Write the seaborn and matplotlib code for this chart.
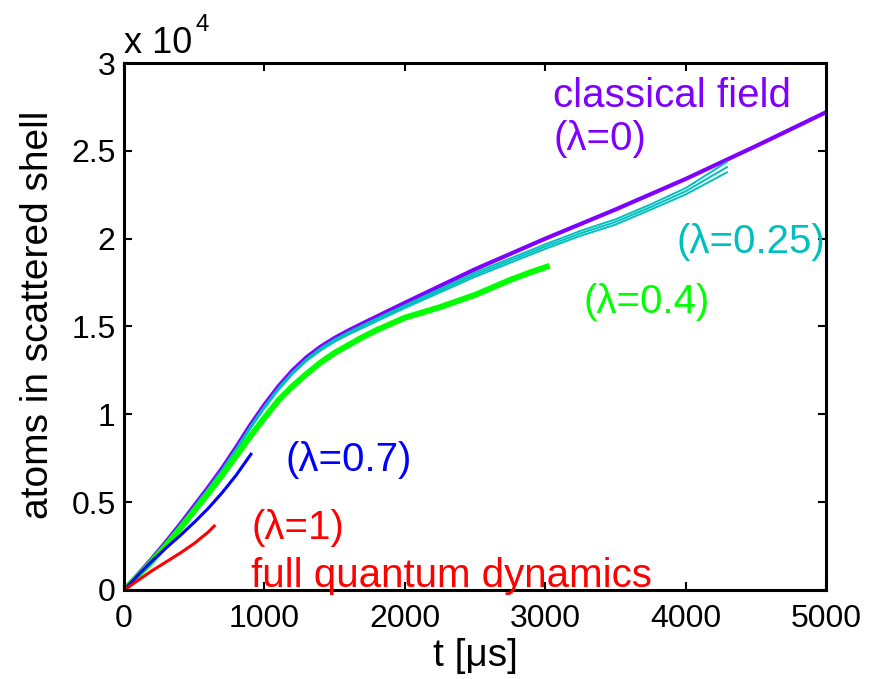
import matplotlib
matplotlib.use('Agg')
import matplotlib.pyplot as plt
from matplotlib import font_manager
import pandas as pd
import seaborn as sns

# data (y in units of 10^4 atoms)
t_classical = [0, 100, 200, 300, 400, 500, 600, 700, 800, 900, 1000, 1100, 1200, 1300, 1400,
               1500, 1600, 1700, 1800, 1900, 2000, 2500, 3000, 3500, 4000, 4500, 5000]
n_classical = [0, 0.09, 0.18, 0.275, 0.375, 0.48, 0.585, 0.695, 0.815, 0.94, 1.055, 1.16, 1.25,
               1.325, 1.385, 1.435, 1.478, 1.518, 1.557, 1.596, 1.635, 1.826, 2.00, 2.166, 2.34,
               2.527, 2.72]

t_025 = [0, 100, 200, 300, 400, 500, 600, 700, 800, 900, 1000, 1100, 1200, 1300, 1400, 1500,
         1600, 1700, 1800, 1900, 2000, 2500, 3000, 3250, 3500, 3750, 4000, 4300]
n_025_a = [0, 0.088, 0.177, 0.271, 0.37, 0.474, 0.578, 0.687, 0.806, 0.931, 1.046, 1.151, 1.241,
           1.316, 1.377, 1.427, 1.469, 1.508, 1.546, 1.584, 1.621, 1.807, 1.968, 2.044, 2.11,
           2.195, 2.288, 2.44]
n_025_b = [0, 0.087, 0.175, 0.268, 0.366, 0.47, 0.573, 0.682, 0.80, 0.925, 1.04, 1.145, 1.235,
           1.31, 1.37, 1.42, 1.462, 1.50, 1.538, 1.576, 1.613, 1.795, 1.955, 2.03, 2.095, 2.18,
           2.27, 2.41]
n_025_c = [0, 0.086, 0.173, 0.265, 0.362, 0.466, 0.568, 0.677, 0.794, 0.919, 1.034, 1.139, 1.229,
           1.304, 1.363, 1.413, 1.455, 1.492, 1.53, 1.568, 1.605, 1.783, 1.942, 2.016, 2.08,
           2.165, 2.252, 2.38]

t_04 = [0, 100, 200, 300, 400, 500, 600, 700, 800, 900, 1000, 1100, 1200, 1300, 1400, 1500,
        1600, 1700, 1800, 1900, 2000, 2250, 2500, 2750, 2900, 3030]
n_04 = [0, 0.082, 0.165, 0.255, 0.35, 0.45, 0.55, 0.655, 0.765, 0.875, 0.98, 1.08, 1.16, 1.23,
        1.295, 1.35, 1.395, 1.44, 1.48, 1.515, 1.55, 1.61, 1.68, 1.765, 1.81, 1.845]

t_07 = [0, 100, 200, 300, 400, 500, 600, 700, 800, 910]
n_07 = [0, 0.085, 0.165, 0.24, 0.31, 0.385, 0.465, 0.555, 0.655, 0.78]

t_1 = [0, 100, 200, 300, 400, 500, 600, 650]
n_1 = [0, 0.055, 0.11, 0.16, 0.21, 0.265, 0.33, 0.37]

x_ticks = [0, 1000, 2000, 3000, 4000, 5000]
y_ticks = [0, 0.5, 1, 1.5, 2, 2.5, 3]
y_ticklabels = ['0', '0.5', '1', '1.5', '2', '2.5', '3']

PURPLE = '#8000ff'
CYAN = '#00bfbf'
GREEN = '#00ff00'
BLUE = '#0000ff'
RED = '#ff0000'

sns.set_theme(style='white')
plt.rcParams['font.family'] = ['Liberation Sans', 'DejaVu Sans']
plt.rcParams['text.color'] = 'black'
plt.rcParams['axes.labelcolor'] = 'black'
plt.rcParams['xtick.color'] = 'black'
plt.rcParams['ytick.color'] = 'black'

installed = {f.name for f in font_manager.fontManager.ttflist}
if 'Liberation Sans Narrow' in installed:
    tick_font = ['Liberation Sans Narrow', 'DejaVu Sans']
    tick_size = 28
else:
    tick_font = ['Liberation Sans', 'DejaVu Sans']
    tick_size = 23

fig = plt.figure(figsize=(8.76, 6.79), dpi=100)
ax = fig.add_axes([0.1416, 0.1311, 0.8014, 0.7761])


def draw(t, n, color, lw):
    df = pd.DataFrame({'t': t, 'n': n})
    sns.lineplot(data=df, x='t', y='n', ax=ax, color=color, linewidth=lw,
                 estimator=None, sort=False, solid_capstyle='butt')


draw(t_classical, n_classical, PURPLE, 3.0)
for arr in (n_025_a, n_025_b, n_025_c):
    draw(t_025, arr, CYAN, 1.4)
draw(t_04, n_04, GREEN, 4.3)
draw(t_07, n_07, BLUE, 2.2)
draw(t_1, n_1, RED, 2.2)

ax.set_xlim(0, 5000)
ax.set_ylim(0, 3)
ax.set_xticks(x_ticks)
ax.set_xticklabels([str(v) for v in x_ticks], family=tick_font, fontsize=tick_size)
ax.set_yticks(y_ticks)
ax.set_yticklabels(y_ticklabels, family=tick_font, fontsize=tick_size)
ax.tick_params(direction='in', length=6, width=1.5, top=True, right=True,
               bottom=True, left=True, colors='black')
ax.tick_params(axis='x', pad=10)
ax.tick_params(axis='y', pad=6)
for sp in ax.spines.values():
    sp.set_linewidth(2.2)
    sp.set_color('black')

ax.set_xlabel('t [\u03bcs]', fontsize=28)
ax.set_ylabel('atoms in scattered shell', fontsize=28)
ax.xaxis.set_label_coords(0.5, -0.091)
ax.yaxis.set_label_coords(-0.097, 0.522)

# multiplier at the top-left corner
mult = ax.text(0.0, 1.019, 'x 10', transform=ax.transAxes, fontsize=tick_size + 3,
               family=tick_font, ha='left', va='baseline')
ax.annotate('4', xy=(1.0, 0.72), xycoords=mult, xytext=(2, 0), textcoords='offset points',
            fontsize=tick_size * 0.75, family=tick_font, ha='left', va='bottom')

ann = 29
ax.text(3056, 2.749, 'classical field', color=PURPLE, fontsize=ann, va='baseline')
ax.text(3056, 2.504, '(\u03bb=0)', color=PURPLE, fontsize=ann, va='baseline')
ax.text(3937, 1.92, '(\u03bb=0.25)', color=CYAN, fontsize=ann, va='baseline')
ax.text(3271, 1.575, '(\u03bb=0.4)', color=GREEN, fontsize=ann, va='baseline')
ax.text(1147, 0.679, '(\u03bb=0.7)', color=BLUE, fontsize=ann, va='baseline')
ax.text(909, 0.290, '(\u03bb=1)', color=RED, fontsize=ann, va='baseline')
ax.text(902, 0.019, 'full quantum dynamics', color=RED, fontsize=ann, va='baseline')

fig.savefig('out.png', dpi=100)
